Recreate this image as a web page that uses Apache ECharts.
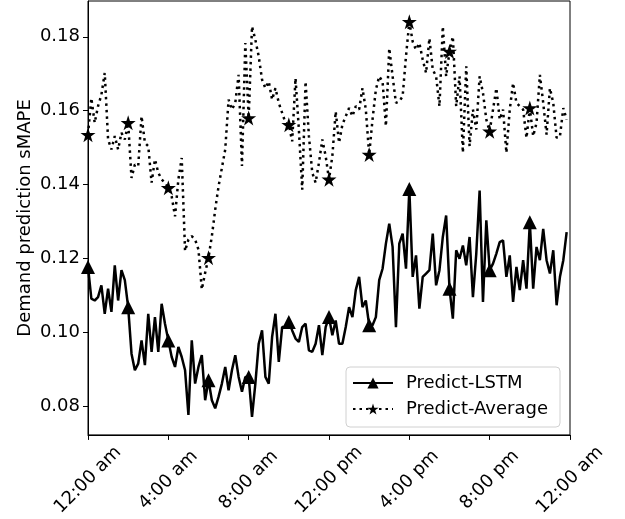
<!DOCTYPE html>
<html>
<head>
<meta charset="utf-8">
<script src="https://cdn.jsdelivr.net/npm/echarts@6/dist/echarts.min.js"></script>
<style>
  html, body { margin: 0; padding: 0; background: #fff; }
  #chart { width: 625px; height: 519px; }
</style>
</head>
<body>
<div id="chart"></div>
<script>
// one value every 10 minutes, 144 per day
const lstm = [
  0.1177, 0.1091, 0.1086, 0.1095, 0.1127, 0.1050, 0.1118, 0.1055, 0.1181, 0.1086, 0.1168, 0.1141,
  0.1068, 0.0942, 0.0897, 0.0915, 0.0978, 0.0911, 0.1050, 0.0947, 0.1041, 0.0947, 0.1077, 0.1023,
  0.0978, 0.0933, 0.0906, 0.0960, 0.0933, 0.0897, 0.0776, 0.0978, 0.0861, 0.0906, 0.0938, 0.0816,
  0.0870, 0.0816, 0.0794, 0.0825, 0.0861, 0.0906, 0.0843, 0.0897, 0.0938, 0.0879, 0.0839, 0.0879,
  0.0879, 0.0771, 0.0861, 0.0969, 0.1005, 0.0879, 0.0861, 0.0987, 0.1050, 0.0920, 0.1014, 0.1014,
  0.1028, 0.1005, 0.0983, 0.0974, 0.1014, 0.1023, 0.0951, 0.0947, 0.0969, 0.1019, 0.0938, 0.1014,
  0.1041, 0.0992, 0.1032, 0.0969, 0.0969, 0.1014, 0.1068, 0.1041, 0.1114, 0.1150, 0.1068, 0.1086,
  0.1019, 0.1019, 0.1041, 0.1141, 0.1172, 0.1240, 0.1294, 0.1231, 0.1014, 0.1240, 0.1267, 0.1172,
  0.1388, 0.1150, 0.1208, 0.1064, 0.1150, 0.1159, 0.1168, 0.1267, 0.1127, 0.1168, 0.1258, 0.1316,
  0.1118, 0.1037, 0.1222, 0.1199, 0.1235, 0.1181, 0.1258, 0.1095, 0.1213, 0.1384, 0.1082, 0.1303,
  0.1168, 0.1186, 0.1213, 0.1244, 0.1249, 0.1150, 0.1208, 0.1082, 0.1177, 0.1114, 0.1195, 0.1118,
  0.1298, 0.1118, 0.1231, 0.1195, 0.1280, 0.1195, 0.1159, 0.1222, 0.1073, 0.1150, 0.1195, 0.1271
];
const average = [
  0.1535, 0.1634, 0.1567, 0.1612, 0.1643, 0.1702, 0.1522, 0.1495, 0.1531, 0.1495, 0.1540, 0.1522,
  0.1567, 0.1418, 0.1454, 0.1450, 0.1585, 0.1513, 0.1504, 0.1405, 0.1468, 0.1432, 0.1414, 0.1405,
  0.1391, 0.1368, 0.1314, 0.1414, 0.1472, 0.1220, 0.1251, 0.1260, 0.1251, 0.1224, 0.1116, 0.1161,
  0.1202, 0.1260, 0.1332, 0.1395, 0.1445, 0.1495, 0.1630, 0.1603, 0.1621, 0.1697, 0.1450, 0.1783,
  0.1580, 0.1828, 0.1792, 0.1747, 0.1684, 0.1661, 0.1679, 0.1630, 0.1661, 0.1621, 0.1594, 0.1567,
  0.1562, 0.1517, 0.1688, 0.1549, 0.1386, 0.1679, 0.1531, 0.1432, 0.1405, 0.1459, 0.1522, 0.1477,
  0.1414, 0.1477, 0.1598, 0.1513, 0.1562, 0.1585, 0.1607, 0.1585, 0.1612, 0.1603, 0.1661, 0.1603,
  0.1481, 0.1576, 0.1657, 0.1693, 0.1679, 0.1558, 0.1769, 0.1693, 0.1621, 0.1625, 0.1639, 0.1747,
  0.1841, 0.1787, 0.1765, 0.1783, 0.1738, 0.1702, 0.1796, 0.1711, 0.1693, 0.1612, 0.1828, 0.1693,
  0.1760, 0.1801, 0.1612, 0.1693, 0.1486, 0.1720, 0.1504, 0.1603, 0.1549, 0.1693, 0.1648, 0.1576,
  0.1544, 0.1603, 0.1661, 0.1576, 0.1603, 0.1486, 0.1603, 0.1675, 0.1621, 0.1612, 0.1603, 0.1526,
  0.1607, 0.1531, 0.1567, 0.1697, 0.1621, 0.1535, 0.1661, 0.1621, 0.1526, 0.1531, 0.1607, 0.1576
];
const xTickLabels = ['12:00 am', '4:00 am', '8:00 am', '12:00 pm', '4:00 pm', '8:00 pm', '12:00 am'];
const yTicks = [0.08, 0.10, 0.12, 0.14, 0.16, 0.18];

const starPath = 'path://M0,-100 L22.45,-30.9 L95.1,-30.9 L36.3,11.8 L58.8,80.9 L0,38.2 L-58.8,80.9 L-36.3,11.8 L-95.1,-30.9 L-22.45,-30.9 Z';
const font = 'DejaVu Sans';

function toPoints(values) {
  return values.map((v, i) => [i / 6, v]); // hour of day
}
function markerSize(size) {
  return (val, params) => (params.dataIndex % 12 === 0 ? size : 0);
}

const chart = echarts.init(document.getElementById('chart'));
chart.setOption({
  animation: false,
  textStyle: { fontFamily: font, color: '#000' },
  grid: {
    left: 88, right: 55, top: 1, bottom: 84,
    show: true, borderColor: '#000', borderWidth: 1
  },
  legend: {
    orient: 'vertical',
    left: 346, top: 367,
    padding: [7, 12, 9, 6],
    itemGap: 8,
    itemWidth: 40,
    itemHeight: 14,
    backgroundColor: '#fff',
    borderColor: '#d0d0d0',
    borderWidth: 1,
    borderRadius: 4,
    textStyle: { fontFamily: font, fontSize: 18, color: '#000', lineHeight: 18, padding: [0, 0, 0, 8] },
    data: ['Predict-LSTM', 'Predict-Average']
  },
  xAxis: {
    type: 'value',
    min: 0, max: 24, interval: 4,
    splitLine: { show: false },
    axisLine: { lineStyle: { color: '#000', width: 1 } },
    axisTick: { show: true, length: 5, lineStyle: { color: '#000' } },
    axisLabel: {
      rotate: 45,
      align: 'center',
      verticalAlign: 'middle',
      margin: 45,
      fontFamily: font,
      fontSize: 18,
      color: '#000',
      formatter: v => xTickLabels[Math.round(v / 4)]
    }
  },
  yAxis: {
    type: 'value',
    min: 0.0722, max: 0.1897,
    name: 'Demand prediction sMAPE',
    nameLocation: 'middle',
    nameGap: 54,
    nameMoveOverlap: false,
    nameTextStyle: { fontFamily: font, fontSize: 18, color: '#000' },
    splitLine: { show: false },
    axisLine: { show: true, lineStyle: { color: '#000', width: 1 } },
    axisTick: { show: true, length: 5, customValues: yTicks, lineStyle: { color: '#000' } },
    axisLabel: {
      margin: 8,
      fontFamily: font,
      fontSize: 18,
      color: '#000',
      customValues: yTicks,
      formatter: v => v.toFixed(2)
    }
  },
  series: [
    {
      name: 'Predict-LSTM',
      type: 'line',
      data: toPoints(lstm),
      symbol: 'triangle',
      symbolSize: markerSize(14),
      showAllSymbol: true,
      color: '#000',
      itemStyle: { color: '#000' },
      lineStyle: { color: '#000', width: 2.5 }
    },
    {
      name: 'Predict-Average',
      type: 'line',
      data: toPoints(average),
      symbol: starPath,
      symbolSize: markerSize(15),
      showAllSymbol: true,
      color: '#000',
      itemStyle: { color: '#000' },
      lineStyle: { color: '#000', width: 2.5, type: [2.5, 4], cap: 'butt' }
    }
  ]
});
</script>
</body>
</html>
